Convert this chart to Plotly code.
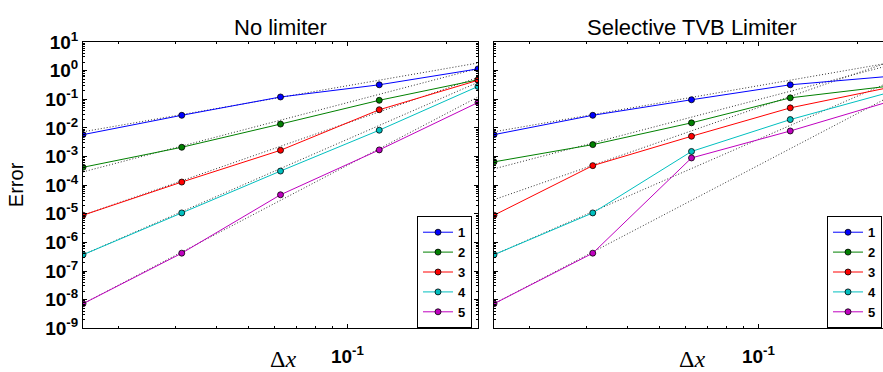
import numpy as np
import plotly.graph_objects as go

# ---------------- data ----------------
dx = [1/64, 1/32, 1/16, 1/8, 1/4]
degrees = ["1", "2", "3", "4", "5"]
colors = ["#0000ff", "#008000", "#ff0000", "#00bfbf", "#bf00bf"]

err_nolim_1 = [5.8e-3, 2.75e-2, 0.12, 0.32, 1.15]
err_nolim_2 = [4.2e-4, 2.1e-3, 1.36e-2, 9.2e-2, 0.48]
err_nolim_3 = [8.9e-6, 1.28e-4, 1.65e-3, 4.3e-2, 0.46]
err_nolim_4 = [3.7e-7, 1.07e-5, 3.1e-4, 8.3e-3, 0.28]
err_nolim_5 = [7.2e-9, 4.2e-7, 4.6e-5, 1.7e-3, 0.077]

err_tvb_1 = [5.8e-3, 2.75e-2, 0.096, 0.32, 0.63]
err_tvb_2 = [6.5e-4, 2.6e-3, 1.5e-2, 0.112, 0.287]
err_tvb_3 = [8.9e-6, 4.8e-4, 5.1e-3, 0.05, 0.257]
err_tvb_4 = [3.7e-7, 1.07e-5, 1.5e-3, 1.95e-2, 0.173]
err_tvb_5 = [7.2e-9, 4.2e-7, 8.9e-4, 7.8e-3, 0.0826]

# dotted reference lines (values at dx[0] and dx[-1])
ref_dx = [1/64, 1/4]
ref_nolim_start = [7.3e-3, 2.9e-4, 8.9e-6, 3.7e-7, 7.2e-9]
ref_nolim_end = [1.85, 1.19, 0.58, 0.39, 0.12]
ref_tvb_start = [7.3e-3, 3.7e-4, 3.1e-5, 3.7e-7, 7.2e-9]
ref_tvb_end = [1.85, 1.52, 2.0, 0.39, 0.12]

y_tick_exps = list(range(-9, 2))
x_tick_vals = [0.1]
x_tick_text = ["10<sup>-1</sup>"]

err_nolim = [err_nolim_1, err_nolim_2, err_nolim_3, err_nolim_4, err_nolim_5]
err_tvb = [err_tvb_1, err_tvb_2, err_tvb_3, err_tvb_4, err_tvb_5]

# ---------------- figure ----------------
W, H = 883, 372
fig = go.Figure()

def add_panel(errs, rs, re, xa, ya, leg):
    for k in range(5):
        fig.add_trace(go.Scatter(
            x=ref_dx, y=[rs[k], re[k]], mode="lines",
            line=dict(color="#333333", width=1, dash="1px,2px"),
            showlegend=False, hoverinfo="skip", xaxis=xa, yaxis=ya))
    for k in range(5):
        fig.add_trace(go.Scatter(
            x=dx, y=errs[k], mode="lines+markers", name=degrees[k],
            line=dict(color=colors[k], width=1),
            marker=dict(color=colors[k], size=6, line=dict(color="black", width=0.8)),
            legend=leg, xaxis=xa, yaxis=ya))

add_panel(err_nolim, ref_nolim_start, ref_nolim_end, "x", "y", "legend")
add_panel(err_tvb, ref_tvb_start, ref_tvb_end, "x2", "y2", "legend2")

x_minor = [v * 10.0**e for e in (-2, -1) for v in range(2, 10)]
y_minor = [v * 10.0**e for e in range(-9, 1) for v in range(2, 10)]

tickfont = dict(family="Liberation Sans, Arial, sans-serif", size=19, color="black", weight="bold")

common_x = dict(
    type="log", showline=True, linecolor="black", linewidth=1,
    ticks="inside", ticklen=4, tickwidth=1, tickcolor="black",
    tickmode="array", tickvals=x_tick_vals, ticktext=x_tick_text,
    tickfont=tickfont, showgrid=False, zeroline=False, mirror="allticks",
    ticklabelstandoff=11,
    minor=dict(ticks="inside", ticklen=2, tickwidth=1, tickcolor="black",
               tickmode="array", tickvals=x_minor, showgrid=False),
)
common_y = dict(
    type="log", range=[-9, 1], showline=True, linecolor="black", linewidth=1,
    ticks="inside", ticklen=4, tickwidth=1, tickcolor="black",
    tickmode="array", tickvals=[10.0**e for e in y_tick_exps],
    ticktext=["10<sup>%d</sup>" % e for e in y_tick_exps],
    tickfont=tickfont, showgrid=False, zeroline=False,
    minor=dict(ticks="inside", ticklen=2, tickwidth=1, tickcolor="black",
               tickmode="array", tickvals=y_minor, showgrid=False),
    domain=[35 / H, 341 / H],
)

lx0 = np.log10(1/64)
px_per_dec = 395 / np.log10(16)

legfont = dict(family="Liberation Sans, Arial, sans-serif", size=13, color="black", weight="bold")

fig.update_layout(
    width=W, height=H, margin=dict(l=0, r=0, t=0, b=0),
    paper_bgcolor="white", plot_bgcolor="white",
    xaxis=dict(common_x, domain=[83 / W, 478 / W], range=[lx0, np.log10(1/4)], anchor="y"),
    xaxis2=dict(common_x, domain=[494 / W, 1.0], range=[lx0, lx0 + 389 / px_per_dec], anchor="y2"),
    yaxis=dict(common_y, anchor="x", mirror="allticks"),
    yaxis2=dict(common_y, anchor="x2", mirror=False, showticklabels=False),
    legend=dict(x=472 / W, y=(H - 337) / H, xanchor="right", yanchor="bottom",
                bgcolor="white", bordercolor="black", borderwidth=1, tracegroupgap=0,
                itemwidth=30, font=legfont),
    legend2=dict(x=882 / W, y=(H - 337) / H, xanchor="right", yanchor="bottom",
                 bgcolor="white", bordercolor="black", borderwidth=1, tracegroupgap=0,
                 itemwidth=30, font=legfont),
    showlegend=True,
)

title_font = dict(family="Liberation Sans, Arial, sans-serif", size=22, color="black")
label_font = dict(family="Liberation Sans, Arial, sans-serif", size=20, color="black")
math_font = dict(family="Liberation Serif, DejaVu Serif, serif", size=24, color="black")

annots = [
    dict(text="No limiter", x=280.5 / W, y=1 - 16 / H, font=title_font),
    dict(text="Selective TVB Limiter", x=691.5 / W, y=1 - 16 / H, font=title_font),
    dict(text="Error", x=16 / W, y=1 - 184 / H, font=label_font, textangle=-90),
    dict(text="Δ<i>x</i>", x=283 / W, y=1 - 370 / H, font=math_font),
    dict(text="Δ<i>x</i>", x=692 / W, y=1 - 370 / H, font=math_font),
]
for a in annots:
    fig.add_annotation(xref="paper", yref="paper", showarrow=False,
                       xanchor="center", yanchor="middle", **a)

fig.write_html("out.html")
